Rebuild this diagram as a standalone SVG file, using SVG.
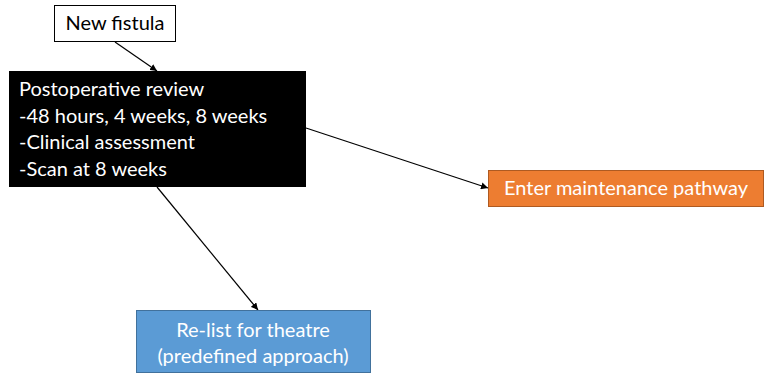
<svg xmlns="http://www.w3.org/2000/svg" width="768" height="376" viewBox="0 0 768 376">
  <defs>
    <marker id="arrow" viewBox="0 0 10 10" refX="10" refY="5" markerWidth="7" markerHeight="7" orient="auto" markerUnits="userSpaceOnUse">
      <path d="M0,0 L10,5 L0,10 z" fill="#000"/>
    </marker>
    <style>
      text { font-family: Lato, "Open Sans", "Liberation Sans", sans-serif; font-size: 20px; }
      .light { fill: #fff; }
      .dark { fill: #000; }
      .conn { stroke: #000; stroke-width: 1.2; fill: none; marker-end: url(#arrow); }
    </style>
  </defs>

  <rect width="768" height="376" fill="#fff"/>

  <g id="connectors">
    <line class="conn" x1="115" y1="42" x2="157" y2="71"/>
    <line class="conn" x1="306" y1="128" x2="488" y2="188"/>
    <line class="conn" x1="157" y1="187" x2="258" y2="310"/>
  </g>

  <g id="new-fistula">
    <rect x="54.5" y="5.5" width="121" height="36" fill="#fff" stroke="#000" stroke-width="1"/>
    <text class="dark" x="115" y="30" text-anchor="middle">New fistula</text>
  </g>

  <g id="postoperative-review">
    <rect x="9" y="71" width="297" height="116" fill="#000"/>
    <text class="light" x="19" y="96">Postoperative review</text>
    <text class="light" x="19" y="123">-48 hours, 4 weeks, 8 weeks</text>
    <text class="light" x="19" y="149">-Clinical assessment</text>
    <text class="light" x="19" y="176">-Scan at 8 weeks</text>
  </g>

  <g id="maintenance">
    <rect x="488.5" y="170.5" width="275" height="36" fill="#ED7D31" stroke="#AE5A21" stroke-width="1"/>
    <text class="light" x="626" y="195" text-anchor="middle">Enter maintenance pathway</text>
  </g>

  <g id="relist">
    <rect x="136.5" y="310.5" width="234" height="62" fill="#5B9BD5" stroke="#41719C" stroke-width="1"/>
    <text class="light" x="253" y="337" text-anchor="middle">Re-list for theatre</text>
    <text class="light" x="253" y="363" text-anchor="middle">(predefined approach)</text>
  </g>
</svg>
